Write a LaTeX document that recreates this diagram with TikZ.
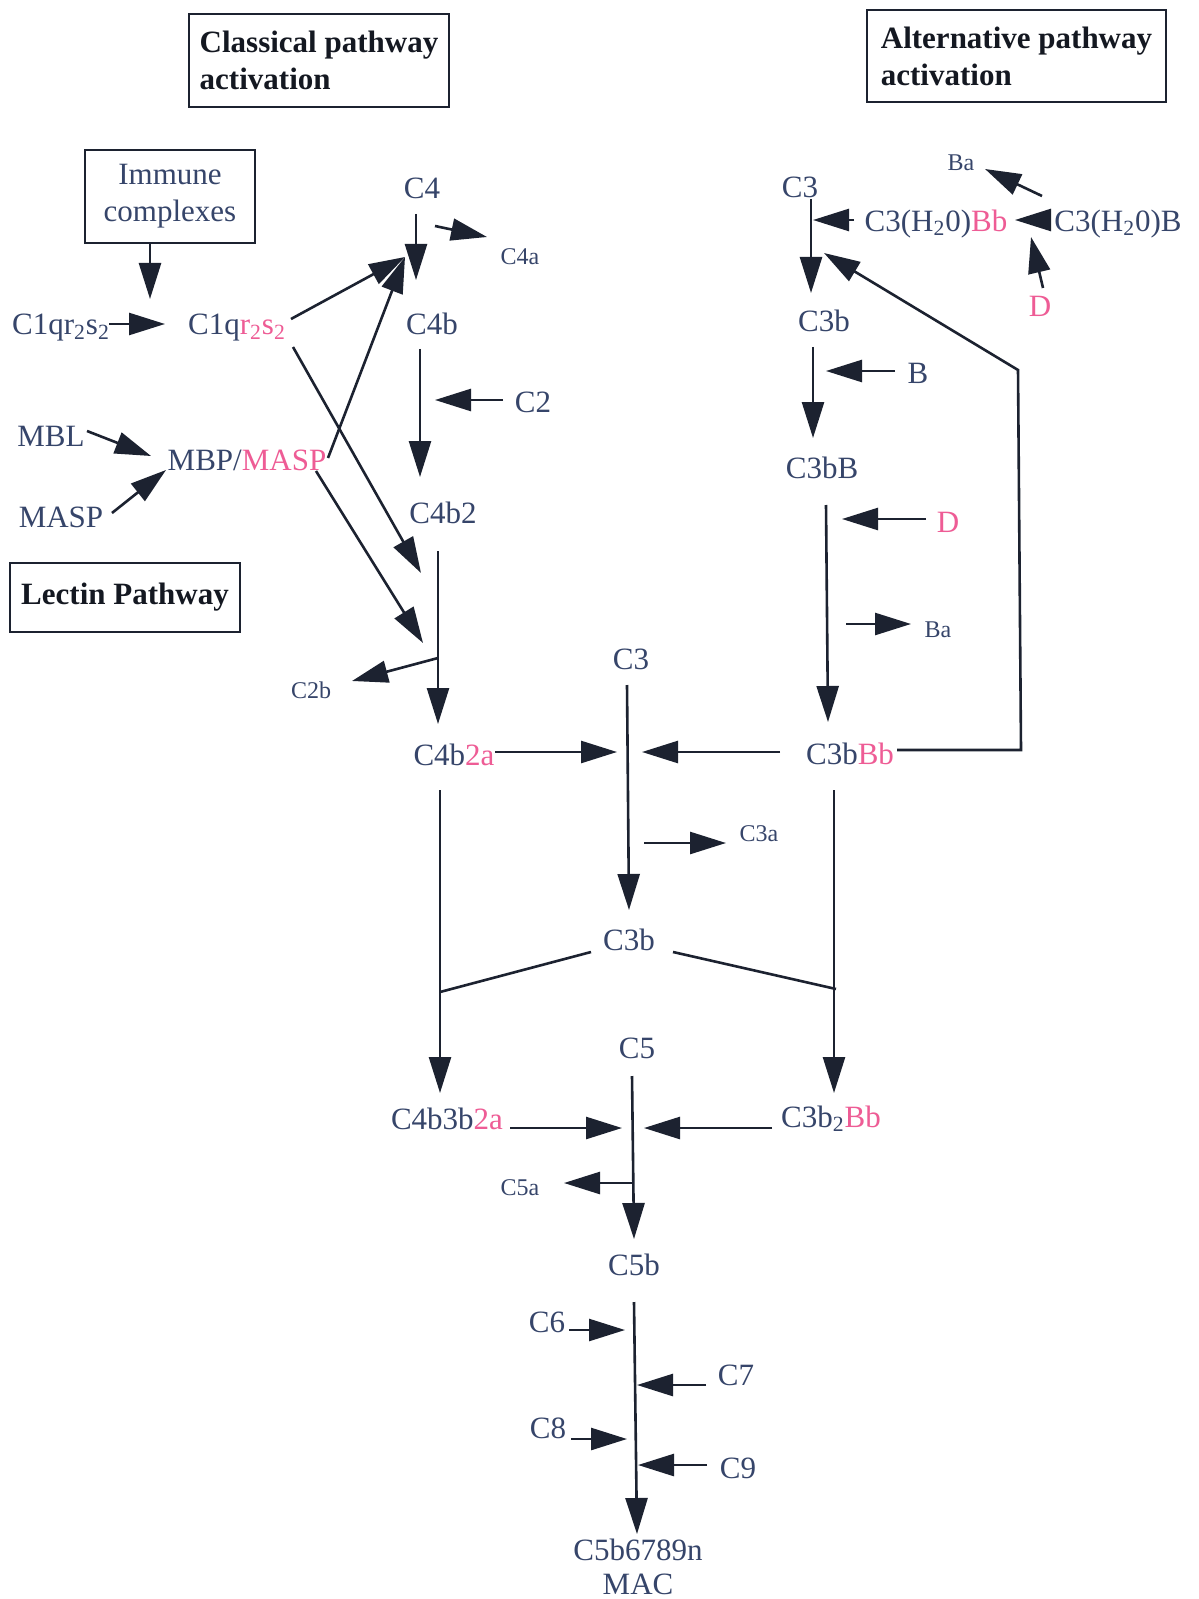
\documentclass[tikz,border=0pt]{standalone}
\usepackage{fontspec}
\setmainfont{Liberation Serif}
\usetikzlibrary{arrows.meta}
\definecolor{ink}{HTML}{36456A}
\definecolor{pinkish}{HTML}{EE5C95}
\definecolor{wire}{HTML}{1C2230}
\definecolor{boxtext}{HTML}{141821}
\newcommand\pinktxt[1]{\textcolor{pinkish}{#1}}
\newcommand\sub[1]{\textsubscript{#1}}

\begin{document}
\begin{tikzpicture}[x=0.5pt,y=-0.5pt,
  lbl/.style={inner sep=0pt, text=ink, font=\fontsize{15.5}{18.5}\selectfont},
  sm/.style={inner sep=0pt, text=ink, font=\fontsize{12}{14}\selectfont},
  arr/.style={draw=wire, line width=1.3pt, -{Triangle[length=18pt,width=11pt]}},
  ln/.style={draw=wire, line width=1.3pt},
  titlebox/.style={draw=wire, line width=1pt, text=boxtext,
    font=\bfseries\fontsize{15.5}{18.5}\selectfont, inner xsep=4pt}
]
\fill[white] (0,0) rectangle (1198,1599);
\useasboundingbox (0,0) rectangle (1198,1599);

% ---------- boxes ----------
\node[titlebox, align=left, minimum width=130pt, minimum height=46.5pt] (classical) at (319,60.5) {Classical pathway\\activation};
\node[titlebox, align=left, minimum width=149.5pt, minimum height=46pt] (alternative) at (1016.5,56) {Alternative pathway\\activation};
\node[draw=wire, line width=1pt, text=ink, font=\fontsize{15.5}{18.5}\selectfont,
      align=center, minimum width=85pt, minimum height=46.5pt] (imm) at (170,196.5) {Immune\\complexes};
\node[titlebox, align=center, minimum width=115pt, minimum height=34.5pt] (lectin) at (125,597.5) {Lectin Pathway};

% ---------- classical / lectin labels ----------
\node[lbl] (N1) at (61,328) {C1qr\sub{2}s\sub{2}};
\node[lbl] (N2) at (237,328) {C1q\pinktxt{r\sub{2}s\sub{2}}};
\node[lbl] (MBL) at (51,436) {MBL};
\node[lbl] (MASPl) at (61,517) {MASP};
\node[lbl] (MBP) at (247,460) {MBP/\pinktxt{MASP}};
\node[lbl] (C4) at (422,188) {C4};
\node[sm]  (C4a) at (520,257) {C4a};
\node[lbl] (C4b) at (432,324) {C4b};
\node[lbl] (C2) at (533,402) {C2};
\node[lbl] (C4b2) at (443,513) {C4b2};
\node[sm]  (C2b) at (311,690) {C2b};
\node[lbl] (C4b2a) at (454,755) {C4b\pinktxt{2a}};

% ---------- central labels ----------
\node[lbl] (C3m) at (631,659) {C3};
\node[sm]  (C3a) at (759,834) {C3a};
\node[lbl] (C3bm) at (629,940) {C3b};
\node[lbl] (C5) at (637,1048) {C5};
\node[lbl] (C4b3b2a) at (447,1119) {C4b3b\pinktxt{2a}};
\node[lbl] (C3b2Bb) at (831,1119) {C3b\sub{2}\pinktxt{Bb}};
\node[sm]  (C5a) at (520,1188) {C5a};
\node[lbl] (C5b) at (634,1265) {C5b};
\node[lbl] (C6) at (547,1322) {C6};
\node[lbl] (C7) at (736,1375) {C7};
\node[lbl] (C8) at (548,1428) {C8};
\node[lbl] (C9) at (738,1468) {C9};
\node[lbl] (MACn) at (638,1550) {C5b6789n};
\node[lbl] (MAC) at (638,1584) {MAC};

% ---------- alternative labels ----------
\node[lbl] (C3r) at (800,187) {C3};
\node[lbl] (C3H2OBb) at (936,224) {C3(H\sub{2}0)\pinktxt{Bb}};
\node[lbl] (C3H2OB) at (1118,224) {C3(H\sub{2}0)B};
\node[sm]  (Ba1) at (961,163) {Ba};
\node[lbl, text=pinkish] (D1) at (1040,306) {D};
\node[lbl] (C3br) at (824,321) {C3b};
\node[lbl] (B) at (918,373) {B};
\node[lbl] (C3bB) at (822,468) {C3bB};
\node[lbl, text=pinkish] (D2) at (948,522) {D};
\node[sm]  (Ba2) at (938,630) {Ba};
\node[lbl] (C3bBb) at (850,754) {C3b\pinktxt{Bb}};

% ---------- junction points on reaction lines ----------
\coordinate (jC4) at (405,257);
\coordinate (jC4a) at (435,226);
\coordinate (jC2) at (435,400);
\coordinate (jN2) at (421,573);
\coordinate (jMBP) at (423,643);
\coordinate (jC2b) at (438,658);
\coordinate (jC3L) at (617,752);
\coordinate (jC3R) at (642,752);
\coordinate (jL) at (440,992);
\coordinate (jR) at (836,989);
\coordinate (jC5L) at (622,1128);
\coordinate (jC5R) at (644,1128);
\coordinate (jC5a) at (634,1183);
\coordinate (jC6) at (625,1330);
\coordinate (jC7) at (637,1385);
\coordinate (jC8) at (627,1439);
\coordinate (jC9) at (638,1465);
\coordinate (jC3in) at (813,220);
\coordinate (jBa1) at (1042,196);
\coordinate (jD1) at (1031,237);
\coordinate (loopA) at (1021,750);
\coordinate (loopB) at (1018,370);
\coordinate (jB) at (826,371);
\coordinate (jD2) at (842,519);
\coordinate (jBa2) at (846,624);

% ---------- classical and lectin pathway ----------
\draw[arr] ([shift={(-20,0)}]imm.south) -- ([shift={(-20,55)}]imm.south);
\draw[arr] ([shift={(48,-4)}]N1.center) -- ([shift={(-72,-4)}]N2.center);
\draw[arr] ([shift={(54,-9)}]N2.center) -- (jC4);
\draw[arr] ([shift={(56,19)}]N2.center) -- (jN2);
\draw[arr] ([shift={(36,-5)}]MBL.center) -- ([shift={(-96,-4)}]MBP.center);
\draw[arr] ([shift={(51,-4)}]MASPl.center) -- ([shift={(-81,10)}]MBP.center);
\draw[arr] ([shift={(81,-2)}]MBP.center) -- (jC4);
\draw[arr] ([shift={(69,11)}]MBP.center) -- (jMBP);
\draw[arr] ([shift={(-6,26)}]C4.center) -- ([shift={(-16,-44)}]C4b.center);
\draw[arr] (jC4a) -- ([shift={(-33,-20)}]C4a.center);
\draw[arr] ([shift={(-12,25)}]C4b.center) -- ([shift={(-23,-36)}]C4b2.center);
\draw[arr] ([shift={(-30,-2)}]C2.center) -- (jC2);
\draw[arr] ([shift={(-5,38)}]C4b2.center) -- ([shift={(-16,-31)}]C4b2a.center);
\draw[arr] (jC2b) -- ([shift={(41,-9)}]C2b.center);

% ---------- C3 convertase step ----------
\draw[arr] ([shift={(41,-3)}]C4b2a.center) -- (jC3L);
\draw[arr] ([shift={(-70,-2)}]C3bBb.center) -- (jC3R);
\draw[arr] ([shift={(-4,26)}]C3m.center) -- ([shift={(0,-30)}]C3bm.center);
\draw[arr] ([shift={(-115,9)}]C3a.center) -- ([shift={(-33,9)}]C3a.center);
\draw[arr] ([shift={(-14,35)}]C4b2a.center) -- ([shift={(-7,-26)}]C4b3b2a.center);
\draw[arr] ([shift={(-16,36)}]C3bBb.center) -- ([shift={(3,-26)}]C3b2Bb.center);
\draw[ln] ([shift={(-38,12)}]C3bm.center) -- (jL);
\draw[ln] ([shift={(44,12)}]C3bm.center) -- (jR);

% ---------- C5 convertase and MAC ----------
\draw[arr] ([shift={(63,9)}]C4b3b2a.center) -- (jC5L);
\draw[arr] ([shift={(-59,9)}]C3b2Bb.center) -- (jC5R);
\draw[arr] ([shift={(-5,28)}]C5.center) -- ([shift={(0,-26)}]C5b.center);
\draw[arr] (jC5a) -- ([shift={(44,-5)}]C5a.center);
\draw[arr] ([shift={(0,37)}]C5b.center) -- ([shift={(-1,-16)}]MACn.center);
\draw[arr] ([shift={(22,8)}]C6.center) -- (jC6);
\draw[arr] ([shift={(-30,10)}]C7.center) -- (jC7);
\draw[arr] ([shift={(23,11)}]C8.center) -- (jC8);
\draw[arr] ([shift={(-31,-3)}]C9.center) -- (jC9);

% ---------- alternative pathway ----------
\draw[arr] ([shift={(11,12)}]C3r.center) -- ([shift={(-13,-28)}]C3br.center);
\draw[arr] ([shift={(-82,-4)}]C3H2OBb.center) -- (jC3in);
\draw[arr] ([shift={(-68,-4)}]C3H2OB.center) -- ([shift={(79,-4)}]C3H2OBb.center);
\draw[arr] (jBa1) -- ([shift={(24,6)}]Ba1.center);
\draw[arr] ([shift={(3,-18)}]D1.center) -- (jD1);
\draw[arr] ([shift={(47,-4)}]C3bBb.center) -- (loopA) -- (loopB) -- ([shift={(0,-68)}]C3br.center);
\draw[arr] ([shift={(-11,26)}]C3br.center) -- ([shift={(-9,-30)}]C3bB.center);
\draw[arr] ([shift={(-23,-2)}]B.center) -- (jB);
\draw[arr] ([shift={(4,37)}]C3bB.center) -- ([shift={(-22,-32)}]C3bBb.center);
\draw[arr] ([shift={(-22,-3)}]D2.center) -- (jD2);
\draw[arr] (jBa2) -- ([shift={(-27,-6)}]Ba2.center);
\end{tikzpicture}
\end{document}
